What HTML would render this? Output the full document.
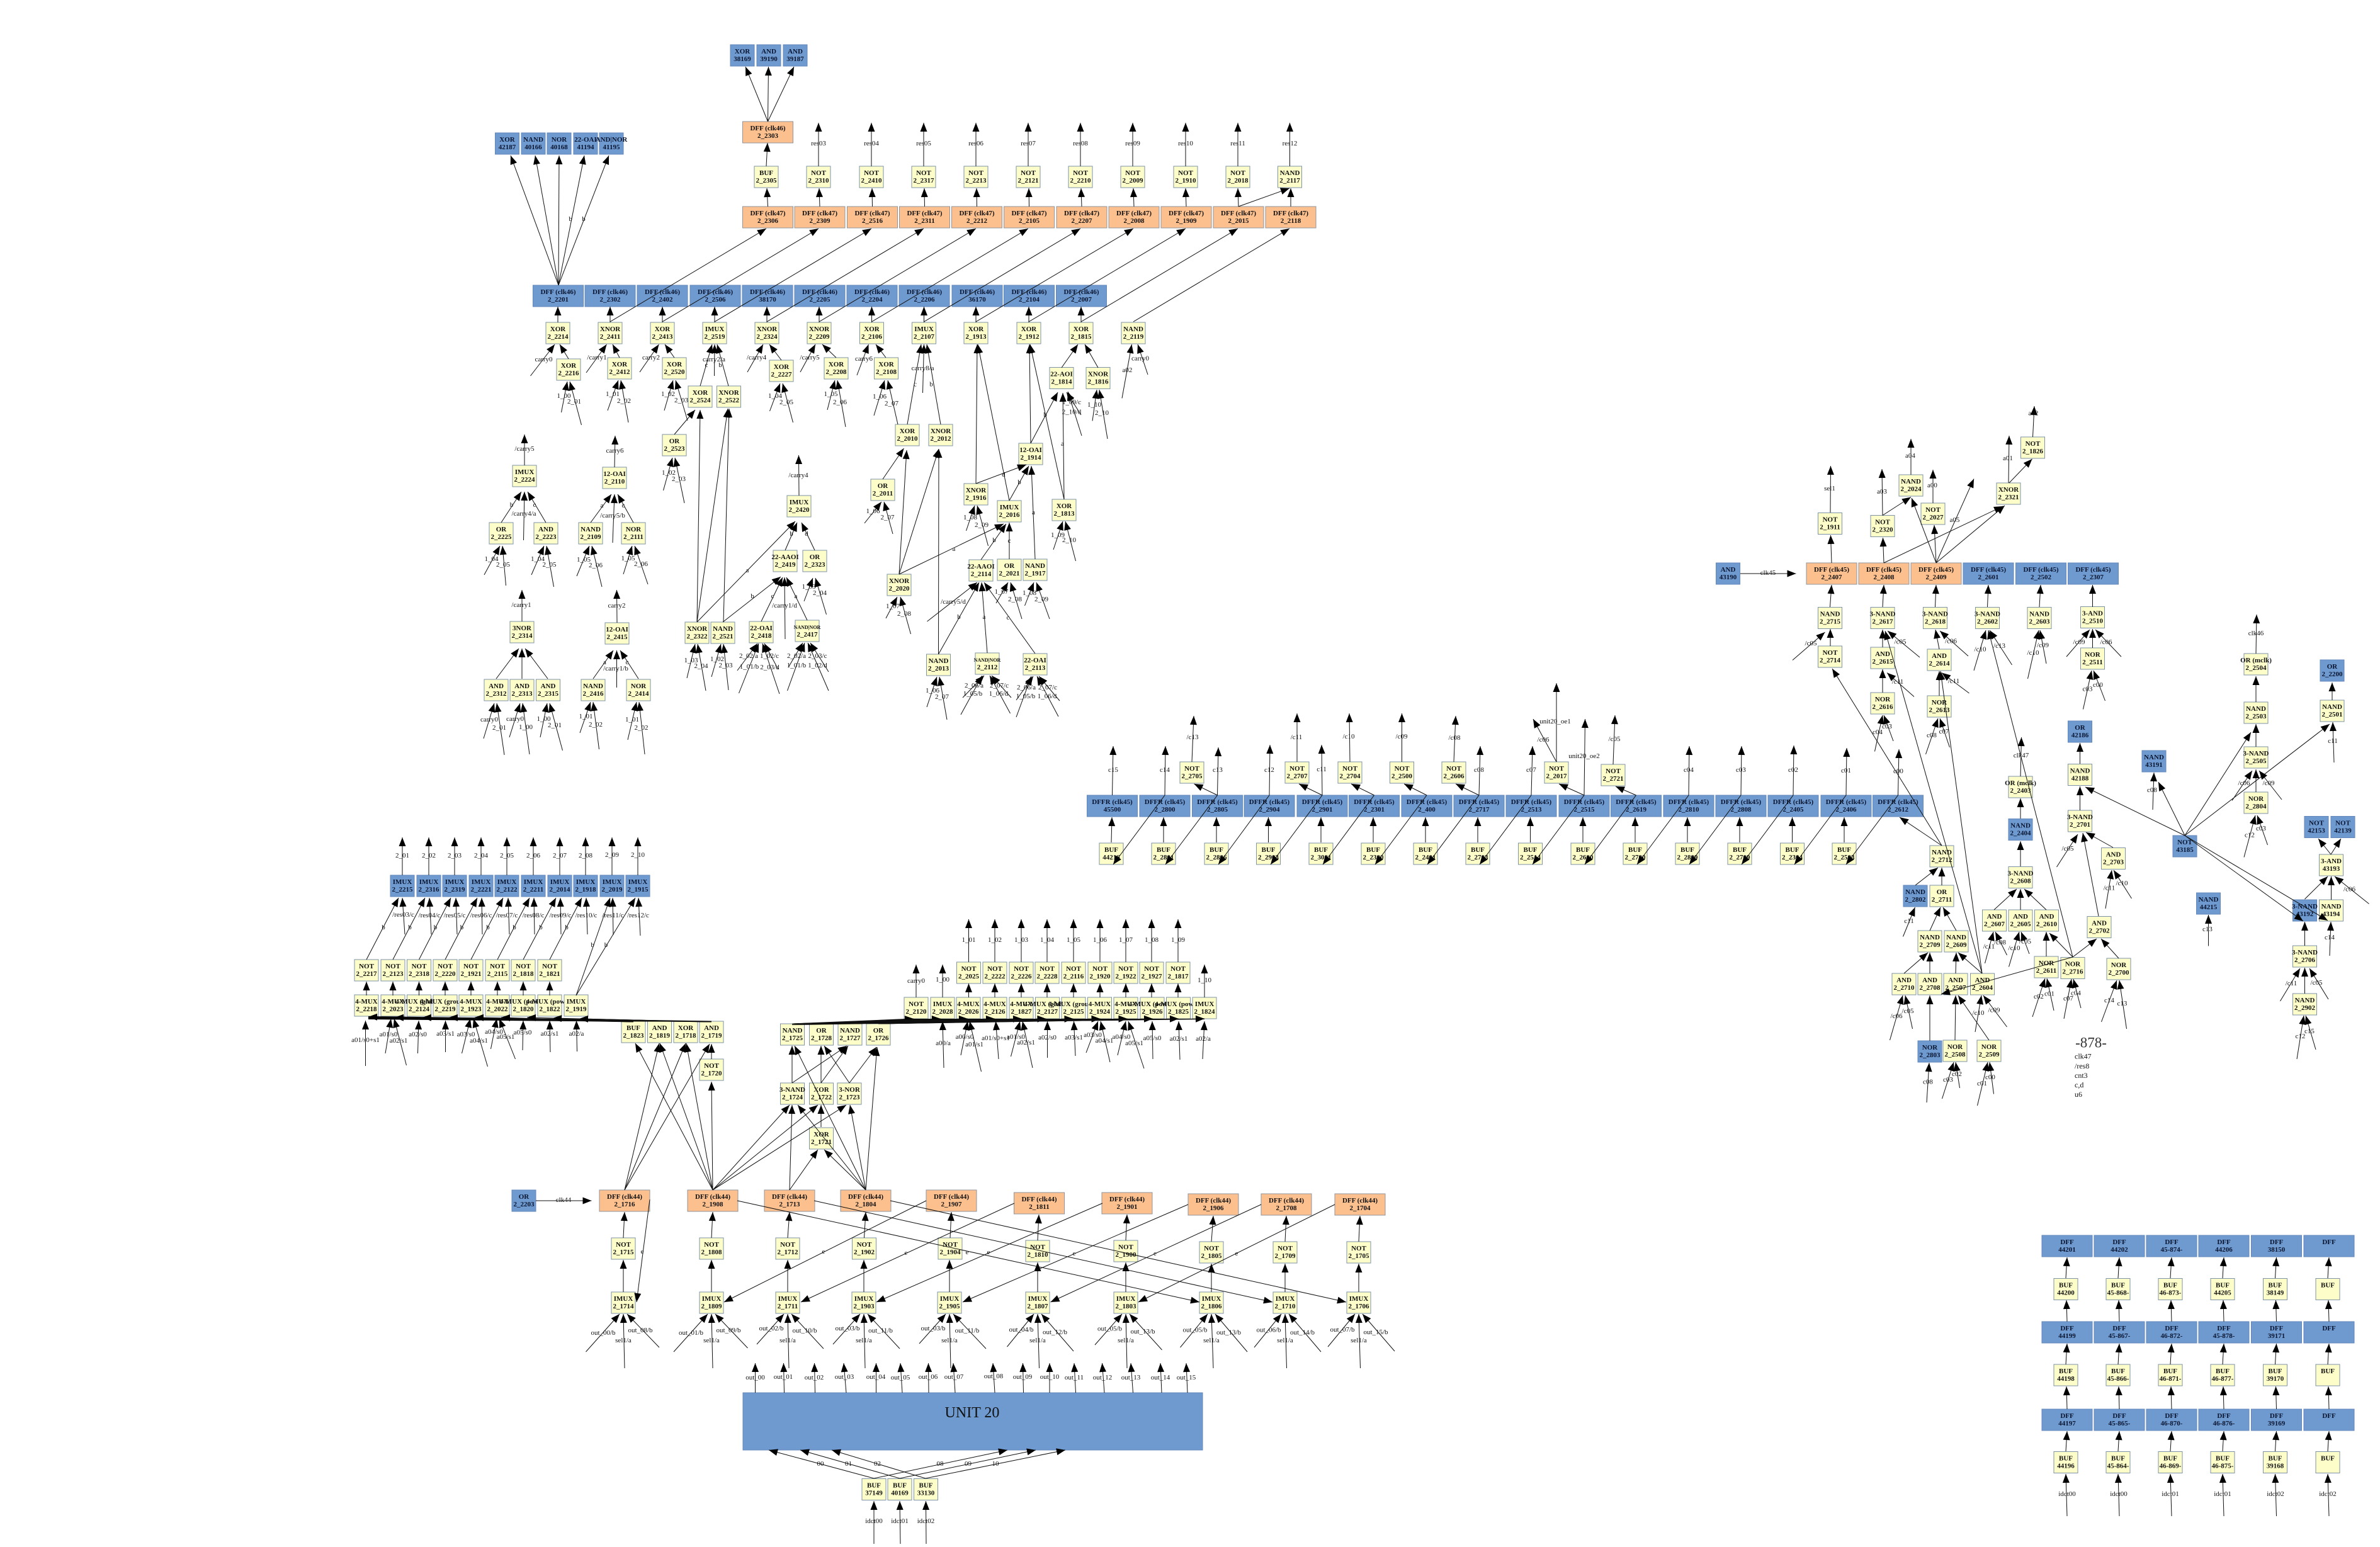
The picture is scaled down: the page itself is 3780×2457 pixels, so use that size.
<!DOCTYPE html>
<html><head><meta charset="utf-8"><style>
html,body{margin:0;padding:0;background:#fff}
svg{display:block}
text{font-family:"Liberation Serif",serif;font-size:11px;text-anchor:middle;fill:#111}
#n text{font-weight:bold}
#n rect{x:-19px;y:-17px;width:38px;height:34px;stroke-width:1}
#n .w rect{x:-40px;width:80px}
.y rect{fill:#fdfdc9;stroke:#7f93a8}
.b rect{fill:#6e9ad0;stroke:#6488bb}
.o rect{fill:#fcc08e;stroke:#8f949c}
#n .b text{fill:#0a1530}
#e path{fill:none;stroke:#111;stroke-width:1;marker-end:url(#a)}
#l text{dominant-baseline:central}
.s{font-size:8px}
</style></head><body>
<svg xmlns="http://www.w3.org/2000/svg" width="3780" height="2457" viewBox="0 0 3780 2457">
<defs><marker id="a" markerUnits="userSpaceOnUse" markerWidth="16" markerHeight="13" refX="15" refY="6.5" orient="auto"><polygon points="1,1 15,6.5 1,12" fill="#000"/></marker></defs>
<rect width="3780" height="2457" fill="#fff"/>
<g id="n">
<g class="b" transform="translate(1179,88)"><rect/><text y="-3">XOR</text><text y="9">38169</text></g>
<g class="b" transform="translate(1221,88)"><rect/><text y="-3">AND</text><text y="9">39190</text></g>
<g class="b" transform="translate(1263,88)"><rect/><text y="-3">AND</text><text y="9">39187</text></g>
<g class="b" transform="translate(805.5,228)"><rect/><text y="-3">XOR</text><text y="9">42187</text></g>
<g class="b" transform="translate(847,228)"><rect/><text y="-3">NAND</text><text y="9">40166</text></g>
<g class="b" transform="translate(888,228)"><rect/><text y="-3">NOR</text><text y="9">40168</text></g>
<g class="b" transform="translate(930,228)"><rect/><text y="-3">22-OAI</text><text y="9">41194</text></g>
<g class="b" transform="translate(971,228)"><rect/><text y="-3">AND|NOR</text><text y="9">41195</text></g>
<g class="o w" transform="translate(1219.5,210)"><rect/><text y="-3">DFF (clk46)</text><text y="9">2_2303</text></g>
<g class="y" transform="translate(1217,281)"><rect/><text y="-3">BUF</text><text y="9">2_2305</text></g>
<g class="y" transform="translate(1300,281)"><rect/><text y="-3">NOT</text><text y="9">2_2310</text></g>
<g class="y" transform="translate(1384,281)"><rect/><text y="-3">NOT</text><text y="9">2_2410</text></g>
<g class="y" transform="translate(1467,281)"><rect/><text y="-3">NOT</text><text y="9">2_2317</text></g>
<g class="y" transform="translate(1550,281)"><rect/><text y="-3">NOT</text><text y="9">2_2213</text></g>
<g class="y" transform="translate(1633,281)"><rect/><text y="-3">NOT</text><text y="9">2_2121</text></g>
<g class="y" transform="translate(1716,281)"><rect/><text y="-3">NOT</text><text y="9">2_2210</text></g>
<g class="y" transform="translate(1799,281)"><rect/><text y="-3">NOT</text><text y="9">2_2009</text></g>
<g class="y" transform="translate(1883,281)"><rect/><text y="-3">NOT</text><text y="9">2_1910</text></g>
<g class="y" transform="translate(1966,281)"><rect/><text y="-3">NOT</text><text y="9">2_2018</text></g>
<g class="y" transform="translate(2048.5,281)"><rect/><text y="-3">NAND</text><text y="9">2_2117</text></g>
<g class="o w" transform="translate(1219.5,345)"><rect/><text y="-3">DFF (clk47)</text><text y="9">2_2306</text></g>
<g class="o w" transform="translate(1302,345)"><rect/><text y="-3">DFF (clk47)</text><text y="9">2_2309</text></g>
<g class="o w" transform="translate(1385.5,345)"><rect/><text y="-3">DFF (clk47)</text><text y="9">2_2516</text></g>
<g class="o w" transform="translate(1468.5,345)"><rect/><text y="-3">DFF (clk47)</text><text y="9">2_2311</text></g>
<g class="o w" transform="translate(1551.5,345)"><rect/><text y="-3">DFF (clk47)</text><text y="9">2_2212</text></g>
<g class="o w" transform="translate(1634.5,345)"><rect/><text y="-3">DFF (clk47)</text><text y="9">2_2105</text></g>
<g class="o w" transform="translate(1718,345)"><rect/><text y="-3">DFF (clk47)</text><text y="9">2_2207</text></g>
<g class="o w" transform="translate(1801,345)"><rect/><text y="-3">DFF (clk47)</text><text y="9">2_2008</text></g>
<g class="o w" transform="translate(1884,345)"><rect/><text y="-3">DFF (clk47)</text><text y="9">2_1909</text></g>
<g class="o w" transform="translate(1967,345)"><rect/><text y="-3">DFF (clk47)</text><text y="9">2_2015</text></g>
<g class="o w" transform="translate(2050,345)"><rect/><text y="-3">DFF (clk47)</text><text y="9">2_2118</text></g>
<g class="b w" transform="translate(886.5,470)"><rect/><text y="-3">DFF (clk46)</text><text y="9">2_2201</text></g>
<g class="b w" transform="translate(969,470)"><rect/><text y="-3">DFF (clk46)</text><text y="9">2_2302</text></g>
<g class="b w" transform="translate(1052,470)"><rect/><text y="-3">DFF (clk46)</text><text y="9">2_2402</text></g>
<g class="b w" transform="translate(1136,470)"><rect/><text y="-3">DFF (clk46)</text><text y="9">2_2506</text></g>
<g class="b w" transform="translate(1219,470)"><rect/><text y="-3">DFF (clk46)</text><text y="9">38170</text></g>
<g class="b w" transform="translate(1302,470)"><rect/><text y="-3">DFF (clk46)</text><text y="9">2_2205</text></g>
<g class="b w" transform="translate(1385,470)"><rect/><text y="-3">DFF (clk46)</text><text y="9">2_2204</text></g>
<g class="b w" transform="translate(1468,470)"><rect/><text y="-3">DFF (clk46)</text><text y="9">2_2206</text></g>
<g class="b w" transform="translate(1552,470)"><rect/><text y="-3">DFF (clk46)</text><text y="9">36170</text></g>
<g class="b w" transform="translate(1634.5,470)"><rect/><text y="-3">DFF (clk46)</text><text y="9">2_2104</text></g>
<g class="b w" transform="translate(1717.5,470)"><rect/><text y="-3">DFF (clk46)</text><text y="9">2_2007</text></g>
<g class="y" transform="translate(886,529)"><rect/><text y="-3">XOR</text><text y="9">2_2214</text></g>
<g class="y" transform="translate(969,529)"><rect/><text y="-3">XNOR</text><text y="9">2_2411</text></g>
<g class="y" transform="translate(1052,529)"><rect/><text y="-3">XOR</text><text y="9">2_2413</text></g>
<g class="y" transform="translate(1135,529)"><rect/><text y="-3">IMUX</text><text y="9">2_2519</text></g>
<g class="y" transform="translate(1218,529)"><rect/><text y="-3">XNOR</text><text y="9">2_2324</text></g>
<g class="y" transform="translate(1301,529)"><rect/><text y="-3">XNOR</text><text y="9">2_2209</text></g>
<g class="y" transform="translate(1384.5,529)"><rect/><text y="-3">XOR</text><text y="9">2_2106</text></g>
<g class="y" transform="translate(1467.5,529)"><rect/><text y="-3">IMUX</text><text y="9">2_2107</text></g>
<g class="y" transform="translate(1550,529)"><rect/><text y="-3">XOR</text><text y="9">2_1913</text></g>
<g class="y" transform="translate(1634,529)"><rect/><text y="-3">XOR</text><text y="9">2_1912</text></g>
<g class="y" transform="translate(1717,529)"><rect/><text y="-3">XOR</text><text y="9">2_1815</text></g>
<g class="y" transform="translate(1800,529)"><rect/><text y="-3">NAND</text><text y="9">2_2119</text></g>
<g class="y" transform="translate(903,587)"><rect/><text y="-3">XOR</text><text y="9">2_2216</text></g>
<g class="y" transform="translate(984,585)"><rect/><text y="-3">XOR</text><text y="9">2_2412</text></g>
<g class="y" transform="translate(1071,585)"><rect/><text y="-3">XOR</text><text y="9">2_2520</text></g>
<g class="y" transform="translate(1112,630)"><rect/><text y="-3">XOR</text><text y="9">2_2524</text></g>
<g class="y" transform="translate(1157.5,630)"><rect/><text y="-3">XNOR</text><text y="9">2_2522</text></g>
<g class="y" transform="translate(1241,589)"><rect/><text y="-3">XOR</text><text y="9">2_2227</text></g>
<g class="y" transform="translate(1328,585)"><rect/><text y="-3">XOR</text><text y="9">2_2208</text></g>
<g class="y" transform="translate(1407.5,585)"><rect/><text y="-3">XOR</text><text y="9">2_2108</text></g>
<g class="y" transform="translate(1686,600.5)"><rect/><text y="-3">22-AOI</text><text y="9">2_1814</text></g>
<g class="y" transform="translate(1744,600.5)"><rect/><text y="-3">XNOR</text><text y="9">2_1816</text></g>
<g class="y" transform="translate(1071,707)"><rect/><text y="-3">OR</text><text y="9">2_2523</text></g>
<g class="y" transform="translate(833,756)"><rect/><text y="-3">IMUX</text><text y="9">2_2224</text></g>
<g class="y" transform="translate(796,847)"><rect/><text y="-3">OR</text><text y="9">2_2225</text></g>
<g class="y" transform="translate(867,847)"><rect/><text y="-3">AND</text><text y="9">2_2223</text></g>
<g class="y" transform="translate(976,759)"><rect/><text y="-3">12-OAI</text><text y="9">2_2110</text></g>
<g class="y" transform="translate(938,847)"><rect/><text y="-3">NAND</text><text y="9">2_2109</text></g>
<g class="y" transform="translate(1006,847)"><rect/><text y="-3">NOR</text><text y="9">2_2111</text></g>
<g class="y" transform="translate(829,1004)"><rect/><text y="-3">3NOR</text><text y="9">2_2314</text></g>
<g class="y" transform="translate(788,1096)"><rect/><text y="-3">AND</text><text y="9">2_2312</text></g>
<g class="y" transform="translate(829,1096)"><rect/><text y="-3">AND</text><text y="9">2_2313</text></g>
<g class="y" transform="translate(870.5,1096)"><rect/><text y="-3">AND</text><text y="9">2_2315</text></g>
<g class="y" transform="translate(980,1006)"><rect/><text y="-3">12-OAI</text><text y="9">2_2415</text></g>
<g class="y" transform="translate(942,1096)"><rect/><text y="-3">NAND</text><text y="9">2_2416</text></g>
<g class="y" transform="translate(1014,1096)"><rect/><text y="-3">NOR</text><text y="9">2_2414</text></g>
<g class="y" transform="translate(1269,804)"><rect/><text y="-3">IMUX</text><text y="9">2_2420</text></g>
<g class="y" transform="translate(1247,891)"><rect/><text y="-3">22-AAOI</text><text y="9">2_2419</text></g>
<g class="y" transform="translate(1294,891)"><rect/><text y="-3">OR</text><text y="9">2_2323</text></g>
<g class="y" transform="translate(1107,1005)"><rect/><text y="-3">XNOR</text><text y="9">2_2322</text></g>
<g class="y" transform="translate(1148,1005)"><rect/><text y="-3">NAND</text><text y="9">2_2521</text></g>
<g class="y" transform="translate(1209,1004)"><rect/><text y="-3">22-OAI</text><text y="9">2_2418</text></g>
<g class="y" transform="translate(1282,1002)"><rect/><text y="-3" class="s">NAND|NOR</text><text y="9">2_2417</text></g>
<g class="y" transform="translate(1441,691)"><rect/><text y="-3">XOR</text><text y="9">2_2010</text></g>
<g class="y" transform="translate(1494,691)"><rect/><text y="-3">XNOR</text><text y="9">2_2012</text></g>
<g class="y" transform="translate(1402,778)"><rect/><text y="-3">OR</text><text y="9">2_2011</text></g>
<g class="y" transform="translate(1637,721)"><rect/><text y="-3">12-OAI</text><text y="9">2_1914</text></g>
<g class="y" transform="translate(1550,785)"><rect/><text y="-3">XNOR</text><text y="9">2_1916</text></g>
<g class="y" transform="translate(1603,812)"><rect/><text y="-3">IMUX</text><text y="9">2_2016</text></g>
<g class="y" transform="translate(1690,810)"><rect/><text y="-3">XOR</text><text y="9">2_1813</text></g>
<g class="y" transform="translate(1558,906)"><rect/><text y="-3">22-AAOI</text><text y="9">2_2114</text></g>
<g class="y" transform="translate(1603,905)"><rect/><text y="-3">OR</text><text y="9">2_2021</text></g>
<g class="y" transform="translate(1644,905)"><rect/><text y="-3">NAND</text><text y="9">2_1917</text></g>
<g class="y" transform="translate(1428,929)"><rect/><text y="-3">XNOR</text><text y="9">2_2020</text></g>
<g class="y" transform="translate(1490.5,1056)"><rect/><text y="-3">NAND</text><text y="9">2_2013</text></g>
<g class="y" transform="translate(1568,1054)"><rect/><text y="-3" class="s">NAND|NOR</text><text y="9">2_2112</text></g>
<g class="y" transform="translate(1644,1055)"><rect/><text y="-3">22-OAI</text><text y="9">2_2113</text></g>
<g class="b" transform="translate(639,1407)"><rect/><text y="-3">IMUX</text><text y="9">2_2215</text></g>
<g class="b" transform="translate(681,1407)"><rect/><text y="-3">IMUX</text><text y="9">2_2316</text></g>
<g class="b" transform="translate(722,1407)"><rect/><text y="-3">IMUX</text><text y="9">2_2319</text></g>
<g class="b" transform="translate(764,1407)"><rect/><text y="-3">IMUX</text><text y="9">2_2221</text></g>
<g class="b" transform="translate(805,1407)"><rect/><text y="-3">IMUX</text><text y="9">2_2122</text></g>
<g class="b" transform="translate(847,1407)"><rect/><text y="-3">IMUX</text><text y="9">2_2211</text></g>
<g class="b" transform="translate(889,1407)"><rect/><text y="-3">IMUX</text><text y="9">2_2014</text></g>
<g class="b" transform="translate(930,1407)"><rect/><text y="-3">IMUX</text><text y="9">2_1918</text></g>
<g class="b" transform="translate(972,1407)"><rect/><text y="-3">IMUX</text><text y="9">2_2019</text></g>
<g class="b" transform="translate(1013,1407)"><rect/><text y="-3">IMUX</text><text y="9">2_1915</text></g>
<g class="y" transform="translate(582,1541)"><rect/><text y="-3">NOT</text><text y="9">2_2217</text></g>
<g class="y" transform="translate(624,1541)"><rect/><text y="-3">NOT</text><text y="9">2_2123</text></g>
<g class="y" transform="translate(665.5,1541)"><rect/><text y="-3">NOT</text><text y="9">2_2318</text></g>
<g class="y" transform="translate(707,1541)"><rect/><text y="-3">NOT</text><text y="9">2_2220</text></g>
<g class="y" transform="translate(748,1541)"><rect/><text y="-3">NOT</text><text y="9">2_1921</text></g>
<g class="y" transform="translate(790,1541)"><rect/><text y="-3">NOT</text><text y="9">2_2115</text></g>
<g class="y" transform="translate(831,1541)"><rect/><text y="-3">NOT</text><text y="9">2_1818</text></g>
<g class="y" transform="translate(873,1541)"><rect/><text y="-3">NOT</text><text y="9">2_1821</text></g>
<g class="y" transform="translate(582,1597)"><rect/><text y="-3">4-MUX</text><text y="9">2_2218</text></g>
<g class="y" transform="translate(624,1597)"><rect/><text y="-3">4-MUX</text><text y="9">2_2023</text></g>
<g class="y" transform="translate(665.5,1597)"><rect/><text y="-3">4-MUX (global)</text><text y="9">2_2124</text></g>
<g class="y" transform="translate(707,1597)"><rect/><text y="-3">4-MUX (ground)</text><text y="9">2_2219</text></g>
<g class="y" transform="translate(748,1597)"><rect/><text y="-3">4-MUX</text><text y="9">2_1923</text></g>
<g class="y" transform="translate(790,1597)"><rect/><text y="-3">4-MUX</text><text y="9">2_2022</text></g>
<g class="y" transform="translate(831,1597)"><rect/><text y="-3">4-MUX (power)</text><text y="9">2_1820</text></g>
<g class="y" transform="translate(873,1597)"><rect/><text y="-3">4-MUX (power)</text><text y="9">2_1822</text></g>
<g class="y" transform="translate(915,1597)"><rect/><text y="-3">IMUX</text><text y="9">2_1919</text></g>
<g class="y" transform="translate(1006,1639)"><rect/><text y="-3">BUF</text><text y="9">2_1823</text></g>
<g class="y" transform="translate(1047.5,1639)"><rect/><text y="-3">AND</text><text y="9">2_1819</text></g>
<g class="y" transform="translate(1089,1639)"><rect/><text y="-3">XOR</text><text y="9">2_1718</text></g>
<g class="y" transform="translate(1130,1639)"><rect/><text y="-3">AND</text><text y="9">2_1719</text></g>
<g class="y" transform="translate(1130,1699)"><rect/><text y="-3">NOT</text><text y="9">2_1720</text></g>
<g class="y" transform="translate(1258.5,1643)"><rect/><text y="-3">NAND</text><text y="9">2_1725</text></g>
<g class="y" transform="translate(1304.5,1643)"><rect/><text y="-3">OR</text><text y="9">2_1728</text></g>
<g class="y" transform="translate(1350,1643)"><rect/><text y="-3">NAND</text><text y="9">2_1727</text></g>
<g class="y" transform="translate(1395,1643)"><rect/><text y="-3">OR</text><text y="9">2_1726</text></g>
<g class="y" transform="translate(1258.5,1737)"><rect/><text y="-3">3-NAND</text><text y="9">2_1724</text></g>
<g class="y" transform="translate(1304.5,1737)"><rect/><text y="-3">XOR</text><text y="9">2_1722</text></g>
<g class="y" transform="translate(1349,1737)"><rect/><text y="-3">3-NOR</text><text y="9">2_1723</text></g>
<g class="y" transform="translate(1304.5,1808)"><rect/><text y="-3">XOR</text><text y="9">2_1721</text></g>
<g class="y" transform="translate(1455,1601)"><rect/><text y="-3">NOT</text><text y="9">2_2120</text></g>
<g class="y" transform="translate(1497,1601)"><rect/><text y="-3">IMUX</text><text y="9">2_2028</text></g>
<g class="y" transform="translate(1538,1601)"><rect/><text y="-3">4-MUX</text><text y="9">2_2026</text></g>
<g class="y" transform="translate(1580,1601)"><rect/><text y="-3">4-MUX</text><text y="9">2_2126</text></g>
<g class="y" transform="translate(1622,1601)"><rect/><text y="-3">4-MUX</text><text y="9">2_1827</text></g>
<g class="y" transform="translate(1663.5,1601)"><rect/><text y="-3">4-MUX (global)</text><text y="9">2_2127</text></g>
<g class="y" transform="translate(1705,1601)"><rect/><text y="-3">4-MUX (ground)</text><text y="9">2_2125</text></g>
<g class="y" transform="translate(1746.5,1601)"><rect/><text y="-3">4-MUX</text><text y="9">2_1924</text></g>
<g class="y" transform="translate(1788,1601)"><rect/><text y="-3">4-MUX</text><text y="9">2_1925</text></g>
<g class="y" transform="translate(1830,1601)"><rect/><text y="-3">4-MUX (power)</text><text y="9">2_1926</text></g>
<g class="y" transform="translate(1871.5,1601)"><rect/><text y="-3">4-MUX (power)</text><text y="9">2_1825</text></g>
<g class="y" transform="translate(1913,1601)"><rect/><text y="-3">IMUX</text><text y="9">2_1824</text></g>
<g class="y" transform="translate(1538.5,1545)"><rect/><text y="-3">NOT</text><text y="9">2_2025</text></g>
<g class="y" transform="translate(1580,1545)"><rect/><text y="-3">NOT</text><text y="9">2_2222</text></g>
<g class="y" transform="translate(1622,1545)"><rect/><text y="-3">NOT</text><text y="9">2_2226</text></g>
<g class="y" transform="translate(1663,1545)"><rect/><text y="-3">NOT</text><text y="9">2_2228</text></g>
<g class="y" transform="translate(1705,1545)"><rect/><text y="-3">NOT</text><text y="9">2_2116</text></g>
<g class="y" transform="translate(1747,1545)"><rect/><text y="-3">NOT</text><text y="9">2_1920</text></g>
<g class="y" transform="translate(1788,1545)"><rect/><text y="-3">NOT</text><text y="9">2_1922</text></g>
<g class="y" transform="translate(1829,1545)"><rect/><text y="-3">NOT</text><text y="9">2_1927</text></g>
<g class="y" transform="translate(1871,1545)"><rect/><text y="-3">NOT</text><text y="9">2_1817</text></g>
<g class="b" transform="translate(832,1907)"><rect/><text y="-3">OR</text><text y="9">2_2203</text></g>
<g class="o w" transform="translate(992,1907)"><rect/><text y="-3">DFF (clk44)</text><text y="9">2_1716</text></g>
<g class="o w" transform="translate(1132,1907)"><rect/><text y="-3">DFF (clk44)</text><text y="9">2_1908</text></g>
<g class="o w" transform="translate(1254,1907)"><rect/><text y="-3">DFF (clk44)</text><text y="9">2_1713</text></g>
<g class="o w" transform="translate(1375,1907)"><rect/><text y="-3">DFF (clk44)</text><text y="9">2_1804</text></g>
<g class="o w" transform="translate(1511,1907)"><rect/><text y="-3">DFF (clk44)</text><text y="9">2_1907</text></g>
<g class="o w" transform="translate(1650.5,1911)"><rect/><text y="-3">DFF (clk44)</text><text y="9">2_1811</text></g>
<g class="o w" transform="translate(1790,1911)"><rect/><text y="-3">DFF (clk44)</text><text y="9">2_1901</text></g>
<g class="o w" transform="translate(1927,1913)"><rect/><text y="-3">DFF (clk44)</text><text y="9">2_1906</text></g>
<g class="o w" transform="translate(2043,1913)"><rect/><text y="-3">DFF (clk44)</text><text y="9">2_1708</text></g>
<g class="o w" transform="translate(2160,1913)"><rect/><text y="-3">DFF (clk44)</text><text y="9">2_1704</text></g>
<g class="y" transform="translate(990,1983)"><rect/><text y="-3">NOT</text><text y="9">2_1715</text></g>
<g class="y" transform="translate(1130,1983)"><rect/><text y="-3">NOT</text><text y="9">2_1808</text></g>
<g class="y" transform="translate(1251,1983)"><rect/><text y="-3">NOT</text><text y="9">2_1712</text></g>
<g class="y" transform="translate(1372.5,1983)"><rect/><text y="-3">NOT</text><text y="9">2_1902</text></g>
<g class="y" transform="translate(1509,1983)"><rect/><text y="-3">NOT</text><text y="9">2_1904</text></g>
<g class="y" transform="translate(1648,1987)"><rect/><text y="-3">NOT</text><text y="9">2_1810</text></g>
<g class="y" transform="translate(1788,1987)"><rect/><text y="-3">NOT</text><text y="9">2_1900</text></g>
<g class="y" transform="translate(1924,1989)"><rect/><text y="-3">NOT</text><text y="9">2_1805</text></g>
<g class="y" transform="translate(2041,1989)"><rect/><text y="-3">NOT</text><text y="9">2_1709</text></g>
<g class="y" transform="translate(2158,1989)"><rect/><text y="-3">NOT</text><text y="9">2_1705</text></g>
<g class="y" transform="translate(990,2069)"><rect/><text y="-3">IMUX</text><text y="9">2_1714</text></g>
<g class="y" transform="translate(1130,2069)"><rect/><text y="-3">IMUX</text><text y="9">2_1809</text></g>
<g class="y" transform="translate(1251,2069)"><rect/><text y="-3">IMUX</text><text y="9">2_1711</text></g>
<g class="y" transform="translate(1372,2069)"><rect/><text y="-3">IMUX</text><text y="9">2_1903</text></g>
<g class="y" transform="translate(1508,2069)"><rect/><text y="-3">IMUX</text><text y="9">2_1905</text></g>
<g class="y" transform="translate(1648,2069)"><rect/><text y="-3">IMUX</text><text y="9">2_1807</text></g>
<g class="y" transform="translate(1788,2069)"><rect/><text y="-3">IMUX</text><text y="9">2_1803</text></g>
<g class="y" transform="translate(1924,2069)"><rect/><text y="-3">IMUX</text><text y="9">2_1806</text></g>
<g class="y" transform="translate(2041,2069)"><rect/><text y="-3">IMUX</text><text y="9">2_1710</text></g>
<g class="y" transform="translate(2158,2069)"><rect/><text y="-3">IMUX</text><text y="9">2_1706</text></g>
<rect x="1180" y="2212" width="730" height="91" fill="#6e9ad0" stroke="#6488bb" style="x:1180px;y:2212px;width:730px;height:91px"/>
<g class="y" transform="translate(1388,2365.5)"><rect/><text y="-3">BUF</text><text y="9">37149</text></g>
<g class="y" transform="translate(1429,2365.5)"><rect/><text y="-3">BUF</text><text y="9">40169</text></g>
<g class="y" transform="translate(1470.5,2365.5)"><rect/><text y="-3">BUF</text><text y="9">33130</text></g>
<g class="b w" transform="translate(1766.5,1280)"><rect/><text y="-3">DFFR (clk45)</text><text y="9">45500</text></g>
<g class="b w" transform="translate(1850,1280)"><rect/><text y="-3">DFFR (clk45)</text><text y="9">2_2800</text></g>
<g class="b w" transform="translate(1933.5,1280)"><rect/><text y="-3">DFFR (clk45)</text><text y="9">2_2805</text></g>
<g class="b w" transform="translate(2016,1280)"><rect/><text y="-3">DFFR (clk45)</text><text y="9">2_2904</text></g>
<g class="b w" transform="translate(2100,1280)"><rect/><text y="-3">DFFR (clk45)</text><text y="9">2_2901</text></g>
<g class="b w" transform="translate(2182.5,1280)"><rect/><text y="-3">DFFR (clk45)</text><text y="9">2_2301</text></g>
<g class="b w" transform="translate(2266,1280)"><rect/><text y="-3">DFFR (clk45)</text><text y="9">2_400</text></g>
<g class="b w" transform="translate(2349,1280)"><rect/><text y="-3">DFFR (clk45)</text><text y="9">2_2717</text></g>
<g class="b w" transform="translate(2432,1280)"><rect/><text y="-3">DFFR (clk45)</text><text y="9">2_2513</text></g>
<g class="b w" transform="translate(2516,1280)"><rect/><text y="-3">DFFR (clk45)</text><text y="9">2_2515</text></g>
<g class="b w" transform="translate(2598.5,1280)"><rect/><text y="-3">DFFR (clk45)</text><text y="9">2_2619</text></g>
<g class="b w" transform="translate(2682,1280)"><rect/><text y="-3">DFFR (clk45)</text><text y="9">2_2810</text></g>
<g class="b w" transform="translate(2765,1280)"><rect/><text y="-3">DFFR (clk45)</text><text y="9">2_2808</text></g>
<g class="b w" transform="translate(2848,1280)"><rect/><text y="-3">DFFR (clk45)</text><text y="9">2_2405</text></g>
<g class="b w" transform="translate(2932,1280)"><rect/><text y="-3">DFFR (clk45)</text><text y="9">2_2406</text></g>
<g class="b w" transform="translate(3014.5,1280)"><rect/><text y="-3">DFFR (clk45)</text><text y="9">2_2612</text></g>
<g class="y" transform="translate(1765,1356)"><rect/><text y="-3">BUF</text><text y="9">44216</text></g>
<g class="y" transform="translate(1848,1356)"><rect/><text y="-3">BUF</text><text y="9">2_2801</text></g>
<g class="y" transform="translate(1932,1356)"><rect/><text y="-3">BUF</text><text y="9">2_2806</text></g>
<g class="y" transform="translate(2014.5,1356)"><rect/><text y="-3">BUF</text><text y="9">2_2903</text></g>
<g class="y" transform="translate(2098,1356)"><rect/><text y="-3">BUF</text><text y="9">2_3001</text></g>
<g class="y" transform="translate(2181,1356)"><rect/><text y="-3">BUF</text><text y="9">2_2300</text></g>
<g class="y" transform="translate(2264,1356)"><rect/><text y="-3">BUF</text><text y="9">2_2401</text></g>
<g class="y" transform="translate(2347,1356)"><rect/><text y="-3">BUF</text><text y="9">2_2703</text></g>
<g class="y" transform="translate(2430.5,1356)"><rect/><text y="-3">BUF</text><text y="9">2_2514</text></g>
<g class="y" transform="translate(2514,1356)"><rect/><text y="-3">BUF</text><text y="9">2_2600</text></g>
<g class="y" transform="translate(2597,1356)"><rect/><text y="-3">BUF</text><text y="9">2_2700</text></g>
<g class="y" transform="translate(2680,1356)"><rect/><text y="-3">BUF</text><text y="9">2_2809</text></g>
<g class="y" transform="translate(2763,1356)"><rect/><text y="-3">BUF</text><text y="9">2_2709</text></g>
<g class="y" transform="translate(2846.5,1356)"><rect/><text y="-3">BUF</text><text y="9">2_2304</text></g>
<g class="y" transform="translate(2929,1356)"><rect/><text y="-3">BUF</text><text y="9">2_2503</text></g>
<g class="y" transform="translate(1893,1227)"><rect/><text y="-3">NOT</text><text y="9">2_2705</text></g>
<g class="y" transform="translate(2060,1227)"><rect/><text y="-3">NOT</text><text y="9">2_2707</text></g>
<g class="y" transform="translate(2144,1227)"><rect/><text y="-3">NOT</text><text y="9">2_2704</text></g>
<g class="y" transform="translate(2226.5,1227)"><rect/><text y="-3">NOT</text><text y="9">2_2500</text></g>
<g class="y" transform="translate(2309,1227)"><rect/><text y="-3">NOT</text><text y="9">2_2606</text></g>
<g class="y" transform="translate(2472,1227)"><rect/><text y="-3">NOT</text><text y="9">2_2017</text></g>
<g class="y" transform="translate(2562,1231)"><rect/><text y="-3">NOT</text><text y="9">2_2721</text></g>
<g class="b" transform="translate(2744.5,911)"><rect/><text y="-3">AND</text><text y="9">43190</text></g>
<g class="o w" transform="translate(2909,911)"><rect/><text y="-3">DFF (clk45)</text><text y="9">2_2407</text></g>
<g class="o w" transform="translate(2992,911)"><rect/><text y="-3">DFF (clk45)</text><text y="9">2_2408</text></g>
<g class="o w" transform="translate(3075,911)"><rect/><text y="-3">DFF (clk45)</text><text y="9">2_2409</text></g>
<g class="b w" transform="translate(3158,911)"><rect/><text y="-3">DFF (clk45)</text><text y="9">2_2601</text></g>
<g class="b w" transform="translate(3241.5,911)"><rect/><text y="-3">DFF (clk45)</text><text y="9">2_2502</text></g>
<g class="b w" transform="translate(3324.5,911)"><rect/><text y="-3">DFF (clk45)</text><text y="9">2_2307</text></g>
<g class="y" transform="translate(2906.5,831.5)"><rect/><text y="-3">NOT</text><text y="9">2_1911</text></g>
<g class="y" transform="translate(2990,835.5)"><rect/><text y="-3">NOT</text><text y="9">2_2320</text></g>
<g class="y" transform="translate(3035,771)"><rect/><text y="-3">NAND</text><text y="9">2_2024</text></g>
<g class="y" transform="translate(3070,816)"><rect/><text y="-3">NOT</text><text y="9">2_2027</text></g>
<g class="y" transform="translate(3190,784)"><rect/><text y="-3">XNOR</text><text y="9">2_2321</text></g>
<g class="y" transform="translate(3228.5,711)"><rect/><text y="-3">NOT</text><text y="9">2_1826</text></g>
<g class="y" transform="translate(2906.5,981.5)"><rect/><text y="-3">NAND</text><text y="9">2_2715</text></g>
<g class="y" transform="translate(2906.5,1043)"><rect/><text y="-3">NOT</text><text y="9">2_2714</text></g>
<g class="y" transform="translate(2990,981.5)"><rect/><text y="-3">3-NAND</text><text y="9">2_2617</text></g>
<g class="y" transform="translate(2990,1045)"><rect/><text y="-3">AND</text><text y="9">2_2615</text></g>
<g class="y" transform="translate(2990,1117)"><rect/><text y="-3">NOR</text><text y="9">2_2616</text></g>
<g class="y" transform="translate(3073.5,981.5)"><rect/><text y="-3">3-NAND</text><text y="9">2_2618</text></g>
<g class="y" transform="translate(3080,1048)"><rect/><text y="-3">AND</text><text y="9">2_2614</text></g>
<g class="y" transform="translate(3080,1122)"><rect/><text y="-3">NOR</text><text y="9">2_2613</text></g>
<g class="y" transform="translate(3156.5,981.5)"><rect/><text y="-3">3-NAND</text><text y="9">2_2602</text></g>
<g class="y" transform="translate(3239,981.5)"><rect/><text y="-3">NAND</text><text y="9">2_2603</text></g>
<g class="y" transform="translate(3323.5,980.5)"><rect/><text y="-3">3-AND</text><text y="9">2_2510</text></g>
<g class="y" transform="translate(3323.5,1046)"><rect/><text y="-3">NOR</text><text y="9">2_2511</text></g>
<g class="b" transform="translate(3303.5,1162)"><rect/><text y="-3">OR</text><text y="9">42186</text></g>
<g class="y" transform="translate(3303.5,1230.5)"><rect/><text y="-3">NAND</text><text y="9">42188</text></g>
<g class="y" transform="translate(3303.5,1304)"><rect/><text y="-3">3-NAND</text><text y="9">2_2701</text></g>
<g class="y" transform="translate(3209,1250)"><rect/><text y="-3">OR (mclk)</text><text y="9">2_2403</text></g>
<g class="b" transform="translate(3209,1317.5)"><rect/><text y="-3">NAND</text><text y="9">2_2404</text></g>
<g class="y" transform="translate(3209,1393.5)"><rect/><text y="-3">3-NAND</text><text y="9">2_2608</text></g>
<g class="y" transform="translate(3167.5,1462)"><rect/><text y="-3">AND</text><text y="9">2_2607</text></g>
<g class="y" transform="translate(3209,1462)"><rect/><text y="-3">AND</text><text y="9">2_2605</text></g>
<g class="y" transform="translate(3250.5,1462)"><rect/><text y="-3">AND</text><text y="9">2_2610</text></g>
<g class="y" transform="translate(3084,1360)"><rect/><text y="-3">NAND</text><text y="9">2_2712</text></g>
<g class="b" transform="translate(3042,1423)"><rect/><text y="-3">NAND</text><text y="9">2_2802</text></g>
<g class="y" transform="translate(3084,1423)"><rect/><text y="-3">OR</text><text y="9">2_2711</text></g>
<g class="y" transform="translate(3065,1495)"><rect/><text y="-3">NAND</text><text y="9">2_2709</text></g>
<g class="y" transform="translate(3107,1495)"><rect/><text y="-3">NAND</text><text y="9">2_2609</text></g>
<g class="y" transform="translate(3024,1563)"><rect/><text y="-3">AND</text><text y="9">2_2710</text></g>
<g class="y" transform="translate(3065,1563)"><rect/><text y="-3">AND</text><text y="9">2_2708</text></g>
<g class="y" transform="translate(3106,1563)"><rect/><text y="-3">AND</text><text y="9">2_2507</text></g>
<g class="y" transform="translate(3148.5,1563)"><rect/><text y="-3">AND</text><text y="9">2_2604</text></g>
<g class="b" transform="translate(3065,1670)"><rect/><text y="-3">NOR</text><text y="9">2_2803</text></g>
<g class="y" transform="translate(3105,1669)"><rect/><text y="-3">NOR</text><text y="9">2_2508</text></g>
<g class="y" transform="translate(3159,1669)"><rect/><text y="-3">NOR</text><text y="9">2_2509</text></g>
<g class="y" transform="translate(3250,1536)"><rect/><text y="-3">NOR</text><text y="9">2_2611</text></g>
<g class="y" transform="translate(3292,1537.5)"><rect/><text y="-3">NOR</text><text y="9">2_2716</text></g>
<g class="y" transform="translate(3334,1472.5)"><rect/><text y="-3">AND</text><text y="9">2_2702</text></g>
<g class="y" transform="translate(3365,1539)"><rect/><text y="-3">NOR</text><text y="9">2_2700</text></g>
<g class="y" transform="translate(3356.5,1363.5)"><rect/><text y="-3">AND</text><text y="9">2_2703</text></g>
<g class="b" transform="translate(3470,1344)"><rect/><text y="-3">NOT</text><text y="9">43185</text></g>
<g class="y" transform="translate(3583,1055)"><rect/><text y="-3">OR (mclk)</text><text y="9">2_2504</text></g>
<g class="y" transform="translate(3583,1132)"><rect/><text y="-3">NAND</text><text y="9">2_2503</text></g>
<g class="y" transform="translate(3583,1203)"><rect/><text y="-3">3-NAND</text><text y="9">2_2505</text></g>
<g class="y" transform="translate(3583,1275)"><rect/><text y="-3">NOR</text><text y="9">2_2804</text></g>
<g class="b" transform="translate(3704,1065)"><rect/><text y="-3">OR</text><text y="9">2_2200</text></g>
<g class="y" transform="translate(3704,1129)"><rect/><text y="-3">NAND</text><text y="9">2_2501</text></g>
<g class="b" transform="translate(3421,1209)"><rect/><text y="-3">NAND</text><text y="9">43191</text></g>
<g class="b" transform="translate(3507.5,1435)"><rect/><text y="-3">NAND</text><text y="9">44215</text></g>
<g class="b" transform="translate(3679,1313.5)"><rect/><text y="-3">NOT</text><text y="9">42153</text></g>
<g class="b" transform="translate(3721,1313.5)"><rect/><text y="-3">NOT</text><text y="9">42139</text></g>
<g class="y" transform="translate(3702.5,1374)"><rect/><text y="-3">3-AND</text><text y="9">43193</text></g>
<g class="b" transform="translate(3660.5,1446)"><rect/><text y="-3">3-NAND</text><text y="9">43192</text></g>
<g class="y" transform="translate(3702.5,1446)"><rect/><text y="-3">NAND</text><text y="9">43194</text></g>
<g class="y" transform="translate(3660.5,1519)"><rect/><text y="-3">3-NAND</text><text y="9">2_2706</text></g>
<g class="y" transform="translate(3660.5,1595)"><rect/><text y="-3">NAND</text><text y="9">2_2902</text></g>
<g class="b w" transform="translate(3283,1979)"><rect/><text y="-3">DFF</text><text y="9">44201</text></g>
<g class="b w" transform="translate(3366,1979)"><rect/><text y="-3">DFF</text><text y="9">44202</text></g>
<g class="b w" transform="translate(3449,1979)"><rect/><text y="-3">DFF</text><text y="9">45-874-</text></g>
<g class="b w" transform="translate(3532,1979)"><rect/><text y="-3">DFF</text><text y="9">44206</text></g>
<g class="b w" transform="translate(3615.5,1979)"><rect/><text y="-3">DFF</text><text y="9">38150</text></g>
<g class="b w" transform="translate(3699,1979)"><rect/><text y="-3">DFF</text></g>
<g class="y" transform="translate(3281,2047.5)"><rect/><text y="-3">BUF</text><text y="9">44200</text></g>
<g class="y" transform="translate(3364,2047.5)"><rect/><text y="-3">BUF</text><text y="9">45-868-</text></g>
<g class="y" transform="translate(3447,2047.5)"><rect/><text y="-3">BUF</text><text y="9">46-873-</text></g>
<g class="y" transform="translate(3530,2047.5)"><rect/><text y="-3">BUF</text><text y="9">44205</text></g>
<g class="y" transform="translate(3613.5,2047.5)"><rect/><text y="-3">BUF</text><text y="9">38149</text></g>
<g class="y" transform="translate(3697,2047.5)"><rect/><text y="-3">BUF</text></g>
<g class="b w" transform="translate(3283,2116)"><rect/><text y="-3">DFF</text><text y="9">44199</text></g>
<g class="b w" transform="translate(3366,2116)"><rect/><text y="-3">DFF</text><text y="9">45-867-</text></g>
<g class="b w" transform="translate(3449,2116)"><rect/><text y="-3">DFF</text><text y="9">46-872-</text></g>
<g class="b w" transform="translate(3532,2116)"><rect/><text y="-3">DFF</text><text y="9">45-878-</text></g>
<g class="b w" transform="translate(3615.5,2116)"><rect/><text y="-3">DFF</text><text y="9">39171</text></g>
<g class="b w" transform="translate(3699,2116)"><rect/><text y="-3">DFF</text></g>
<g class="y" transform="translate(3281,2184)"><rect/><text y="-3">BUF</text><text y="9">44198</text></g>
<g class="y" transform="translate(3364,2184)"><rect/><text y="-3">BUF</text><text y="9">45-866-</text></g>
<g class="y" transform="translate(3447,2184)"><rect/><text y="-3">BUF</text><text y="9">46-871-</text></g>
<g class="y" transform="translate(3530,2184)"><rect/><text y="-3">BUF</text><text y="9">46-877-</text></g>
<g class="y" transform="translate(3613.5,2184)"><rect/><text y="-3">BUF</text><text y="9">39170</text></g>
<g class="y" transform="translate(3697,2184)"><rect/><text y="-3">BUF</text></g>
<g class="b w" transform="translate(3283,2255)"><rect/><text y="-3">DFF</text><text y="9">44197</text></g>
<g class="b w" transform="translate(3366,2255)"><rect/><text y="-3">DFF</text><text y="9">45-865-</text></g>
<g class="b w" transform="translate(3449,2255)"><rect/><text y="-3">DFF</text><text y="9">46-870-</text></g>
<g class="b w" transform="translate(3532,2255)"><rect/><text y="-3">DFF</text><text y="9">46-876-</text></g>
<g class="b w" transform="translate(3615.5,2255)"><rect/><text y="-3">DFF</text><text y="9">39169</text></g>
<g class="b w" transform="translate(3699,2255)"><rect/><text y="-3">DFF</text></g>
<g class="y" transform="translate(3281,2322.5)"><rect/><text y="-3">BUF</text><text y="9">44196</text></g>
<g class="y" transform="translate(3364,2322.5)"><rect/><text y="-3">BUF</text><text y="9">45-864-</text></g>
<g class="y" transform="translate(3447,2322.5)"><rect/><text y="-3">BUF</text><text y="9">46-869-</text></g>
<g class="y" transform="translate(3530,2322.5)"><rect/><text y="-3">BUF</text><text y="9">46-875-</text></g>
<g class="y" transform="translate(3613.5,2322.5)"><rect/><text y="-3">BUF</text><text y="9">39168</text></g>
<g class="y" transform="translate(3697,2322.5)"><rect/><text y="-3">BUF</text></g>
</g>
<polygon points="585,1614 900,1618 1130,1621.5 1130,1623 900,1622 585,1619" fill="#000"/>
<polygon points="1258,1627 1451,1618 1913,1618 1913,1619 1451,1625 1258,1628" fill="#000"/>
<g id="e">
<path d="M1219.5 193L1184 106"/><path d="M1219.5 193L1220.5 106"/><path d="M1219.5 193L1261 106"/>
<path d="M1217 264L1219 227"/><path d="M1219.5 328L1218 299"/>
<path d="M887 453L811 247"/><path d="M887 453L850 247"/><path d="M887 453L888 247"/><path d="M887 453L928 247"/><path d="M887 453L967 247"/>
<path d="M1300 264V195"/><path d="M1384 264V195"/><path d="M1467 264V195"/><path d="M1550 264V195"/><path d="M1633 264V195"/><path d="M1716 264V195"/><path d="M1799 264V195"/><path d="M1883 264V195"/><path d="M1966 264V195"/><path d="M2048.5 264V195"/>
<path d="M1302 328L1301 299"/><path d="M1385.5 328L1385 299"/><path d="M1468.5 328L1468 299"/><path d="M1551.5 328L1551 299"/><path d="M1634.5 328L1634 299"/><path d="M1718 328L1717 299"/><path d="M1801 328L1800 299"/><path d="M1884 328L1883 299"/><path d="M1967 328L1966 299"/><path d="M1967 328L2048 299"/><path d="M2050 328L2050 299"/>
<path d="M969 511L1217 363"/><path d="M1052 511L1300 363"/><path d="M1135 511L1384 363"/><path d="M1218 511L1467 363"/><path d="M1301 511L1550 363"/><path d="M1384.5 511L1633 363"/><path d="M1467.5 511L1716 363"/><path d="M1550 511L1800 363"/><path d="M1634 511L1883 363"/><path d="M1717 511L1966 363"/><path d="M1800 511L2048 363"/>
<path d="M886 512V487"/><path d="M969 512V487"/><path d="M1052 512V487"/><path d="M1135 512V487"/><path d="M1218 512V487"/><path d="M1301 512V487"/><path d="M1384.5 512V487"/><path d="M1467.5 512V487"/><path d="M1550 512V487"/><path d="M1634 512V487"/><path d="M1717 512V487"/>
<path d="M842.5 597L881 547"/><path d="M903 570L889 547"/><path d="M891.5 655L901 606"/><path d="M923.5 675L905 606"/>
<path d="M931 592L963.5 547"/><path d="M984 568L973 547"/><path d="M965 652L982 604"/><path d="M998 671L986 604"/>
<path d="M1016 591L1046.5 547"/><path d="M1071 568L1056 547"/><path d="M1055 652L1069 604"/><path d="M1092 668L1073 604"/>
<path d="M1112 613L1131 547"/><path d="M1157 613L1139 547"/><path d="M1134.5 597L1135 547"/>
<path d="M1071 690L1104 651"/><path d="M1053.5 779L1068 727"/><path d="M1087 799L1072 727"/>
<path d="M1107 988L1112 651"/><path d="M1107 988L1156 649"/><path d="M1149 988L1158 649"/>
<path d="M1187 591L1212 547"/><path d="M1241 572L1222 547"/><path d="M1222.5 653L1239 609"/><path d="M1259.5 671L1243 609"/>
<path d="M1271 591L1295 547"/><path d="M1328 568L1306 547"/><path d="M1314 651L1326 604"/><path d="M1343 678L1330 604"/>
<path d="M1361 596L1379.5 547"/><path d="M1407 568L1391 547"/><path d="M1388 660L1405 604"/><path d="M1426 674L1410 604"/>
<path d="M1441 674L1463 547"/><path d="M1494 674L1472 547"/><path d="M1465.5 624L1467.5 547"/>
<path d="M1550 768L1552 547"/><path d="M1603 795L1553 547"/><path d="M1637 704L1635 547"/><path d="M1690 793L1636 547"/>
<path d="M1686 584L1712 547"/><path d="M1744 584L1723 547"/>
<path d="M1637 704L1680 623"/><path d="M1690 793L1688 624"/><path d="M1717 659L1694 623"/><path d="M1718 692L1696 622"/>
<path d="M1735 668.5L1742 619"/><path d="M1759 697L1746 619"/>
<path d="M1782 632.5L1797.5 547"/><path d="M1823 595L1807 547"/>
<path d="M833 739V690"/><path d="M796 830L828 781"/><path d="M867 830L838 781"/><path d="M831.5 858L833 781"/>
<path d="M769 913L794 867"/><path d="M803.5 930L798 867"/><path d="M844 913L864 867"/><path d="M879.5 932L868 867"/>
<path d="M976 742L977 692"/><path d="M938 830L971 785"/><path d="M1006 830L981 785"/><path d="M973 862L976 785"/>
<path d="M916 915L936 867"/><path d="M956 932L940 867"/><path d="M990 912L1004 867"/><path d="M1029 928L1008 867"/>
<path d="M829 987V937"/><path d="M788 1078L824 1030"/><path d="M829 1078V1030"/><path d="M870 1078L834 1030"/>
<path d="M768 1173L785 1117"/><path d="M801 1199L789 1117"/><path d="M809 1171L826 1117"/><path d="M841 1198L830 1117"/><path d="M858 1171L869 1117"/><path d="M893.5 1192L873 1117"/>
<path d="M980 989L979.5 937"/><path d="M942 1078L974 1033"/><path d="M1014 1078L985 1033"/><path d="M979.5 1092V1033"/>
<path d="M921 1164L938 1115"/><path d="M951.5 1190L942 1115"/><path d="M997 1175L1011 1115"/><path d="M1024 1198L1015 1115"/>
<path d="M1269 787L1268.5 723"/><path d="M1247 874L1266 830"/><path d="M1294 874L1273 830"/><path d="M1107 988L1263 828"/>
<path d="M1277 955L1291 918"/><path d="M1312.5 976L1295 918"/>
<path d="M1148 988L1240 916"/><path d="M1209 987L1243 917"/><path d="M1247 1015L1246 917"/><path d="M1282 985L1249 917"/>
<path d="M1091 1077L1104 1023"/><path d="M1121 1097L1108 1023"/><path d="M1130 1075L1145 1023"/><path d="M1157 1096L1149 1023"/>
<path d="M1171 1065L1203 1022"/><path d="M1173.5 1101L1205 1022"/><path d="M1238 1102L1211 1022"/><path d="M1236 1063L1214 1022"/>
<path d="M1252 1060L1275 1021"/><path d="M1250.5 1097L1278 1021"/><path d="M1316 1097L1283 1021"/><path d="M1316 1067L1287 1021"/>
<path d="M1402 761L1435.5 712"/><path d="M1428 912L1440 715"/><path d="M1428 912L1491 713"/><path d="M1490.5 1039L1491 713"/>
<path d="M1373 831L1400 797"/><path d="M1418 848L1404 797"/>
<path d="M1550 768L1630 738"/><path d="M1603 795L1634 740"/><path d="M1644 888L1638 740"/>
<path d="M1534.5 843L1548 803"/><path d="M1569.5 867L1552 803"/><path d="M1673 873L1688 828"/><path d="M1708.5 891L1692 828"/>
<path d="M1428 912L1594 832"/><path d="M1558 889L1598 832"/><path d="M1603 888L1603 830"/>
<path d="M1472.5 987L1552 925"/><path d="M1490.5 1039L1555 925"/><path d="M1568 1037L1559 925"/><path d="M1644 1038L1563 925"/>
<path d="M1582 958L1601 925"/><path d="M1623 983L1605 925"/><path d="M1627.5 962L1642 925"/><path d="M1667 983L1646 925"/>
<path d="M1407 982L1425 948"/><path d="M1446.5 1007L1430 948"/>
<path d="M1472 1123L1488 1075"/><path d="M1504 1143L1492 1075"/>
<path d="M1526 1135L1560 1073"/><path d="M1529 1108L1563 1073"/><path d="M1604.5 1133L1572 1073"/><path d="M1606 1108L1575 1073"/>
<path d="M1614 1139L1638 1074"/><path d="M1614 1112L1641 1074"/><path d="M1681 1138L1647 1074"/><path d="M1683 1113L1650 1074"/>
<path d="M639 1390V1330"/><path d="M681 1390V1330"/><path d="M722 1390V1330"/><path d="M764 1390V1330"/><path d="M805 1390V1330"/><path d="M847 1390V1330"/><path d="M889 1390V1330"/><path d="M930 1390V1330"/><path d="M972 1390V1330"/><path d="M1013 1390V1330"/>
<path d="M582 1524L633 1426"/><path d="M624 1524L675 1426"/><path d="M665.5 1524L716 1426"/><path d="M707 1524L758 1426"/><path d="M748 1524L799 1426"/><path d="M790 1524L841 1426"/><path d="M831 1524L883 1426"/><path d="M873 1524L924 1426"/>
<path d="M915 1581L969 1426"/><path d="M915 1581L1009 1426"/>
<path d="M643 1484L639 1426"/><path d="M685 1484L682 1426"/><path d="M726 1484L724 1426"/><path d="M766 1484L765 1426"/><path d="M809 1484L807 1426"/><path d="M849 1484L848 1426"/><path d="M891 1484L890 1426"/><path d="M933 1484L931 1426"/><path d="M974 1485L973 1426"/><path d="M1017 1486L1014 1426"/>
<path d="M582 1581V1559"/><path d="M624 1581V1559"/><path d="M665.5 1581V1559"/><path d="M707 1581V1559"/><path d="M748 1581V1559"/><path d="M790 1581V1559"/><path d="M831 1581V1559"/><path d="M873 1581V1559"/>
<path d="M1130 1623L585 1615"/><path d="M1006 1623L627 1616"/><path d="M1130 1623L671 1616"/><path d="M1006 1623L713 1616"/><path d="M1130 1623L754 1616"/><path d="M1006 1623L796 1616"/><path d="M1130 1623L837 1616"/><path d="M1006 1623L878 1617"/><path d="M1130 1623L920 1618"/>
<path d="M1258 1626L1451 1618"/><path d="M1258 1626L1494 1618"/><path d="M1258 1626L1537 1618"/><path d="M1258 1626L1580 1618"/><path d="M1304 1626L1623 1618"/><path d="M1304 1626L1661.5 1618"/><path d="M1350 1626L1704.5 1618"/><path d="M1350 1626L1747.5 1618"/><path d="M1395 1626L1790.5 1618"/><path d="M1395 1626L1831 1618"/><path d="M1395 1626L1872 1618"/><path d="M1395 1626L1913 1618"/>
<path d="M580.5 1693V1621"/><path d="M612 1673L621 1618"/><path d="M645.5 1692L626 1618"/><path d="M663.5 1673L665 1621"/><path d="M707.5 1671V1621"/><path d="M733.5 1673L747 1618"/><path d="M774.5 1694L752 1618"/><path d="M779.5 1666L789 1618"/><path d="M818.5 1682L793 1618"/><path d="M830 1668L831 1621"/><path d="M874 1671L873 1621"/><path d="M916.5 1670L915.5 1621"/>
<path d="M1130 1682V1658"/><path d="M1132 1890L1009 1657"/><path d="M992 1890L1047 1657"/><path d="M1132 1890L1048 1657"/><path d="M992 1890L1089 1657"/><path d="M1132 1890L1090 1657"/><path d="M992 1890L1127 1658"/><path d="M1132 1890L1130 1718"/>
<path d="M1258 1720V1661"/><path d="M1375 1890L1262 1661"/><path d="M1304 1720V1661"/><path d="M1349 1720L1309 1661"/><path d="M1258 1720L1345 1661"/><path d="M1304 1720L1347 1661"/><path d="M1349 1720L1392 1663"/><path d="M1375 1890L1393 1663"/>
<path d="M1132 1890L1254 1755"/><path d="M1132 1890L1299 1755"/><path d="M1132 1890L1344 1755"/><path d="M1254 1890L1258 1755"/><path d="M1375 1890L1267 1755"/><path d="M1375 1890L1350 1755"/><path d="M1304 1790V1755"/>
<path d="M1254 1890L1299 1826"/><path d="M1375 1890L1309 1826"/>
<path d="M851 1907H939.5"/><path d="M1032 1905L1011 2068"/>
<path d="M990 1966L992 1925"/><path d="M1130 1966L1132 1925"/><path d="M1251 1966L1254 1925"/><path d="M1372.5 1966L1375 1925"/><path d="M1509 1966L1511 1925"/><path d="M1648 1970L1650 1929"/><path d="M1788 1970L1790 1929"/><path d="M1924 1972L1927 1931"/><path d="M2041 1972L2043 1931"/><path d="M2158 1972L2160 1931"/>
<path d="M990 2052V2001"/><path d="M1130 2052V2001"/><path d="M1251 2052V2001"/><path d="M1372 2052V2001"/><path d="M1508 2052V2001"/><path d="M1648 2052V2005"/><path d="M1788 2052V2005"/><path d="M1924 2052V2007"/><path d="M2041 2052V2007"/><path d="M2158 2052V2007"/>
<path d="M1471 1907L1150 2068"/><path d="M1611 1911L1272 2068"/><path d="M1751 1911L1392 2068"/><path d="M1887 1913L1529 2068"/><path d="M2003 1913L1668.5 2068"/><path d="M2120 1913L1808 2068"/>
<path d="M1171 1907L1905 2068"/><path d="M1293 1907L2021 2068"/><path d="M1414 1907L2138 2068"/>
<path d="M930.5 2147L984 2087"/><path d="M992 2173L990 2087"/><path d="M1047 2140L996 2087"/>
<path d="M1070 2147L1124 2087"/><path d="M1132 2173L1130 2087"/><path d="M1187.5 2141L1136 2087"/>
<path d="M1202 2135L1245 2087"/><path d="M1253 2173L1251 2087"/><path d="M1308 2142L1257 2087"/>
<path d="M1323 2135L1366 2087"/><path d="M1374 2173L1372 2087"/><path d="M1429 2142L1378 2087"/>
<path d="M1460 2134L1502 2087"/><path d="M1510 2173L1508 2087"/><path d="M1566 2142L1514 2087"/>
<path d="M1599.5 2139L1642 2087"/><path d="M1650.5 2173L1648 2087"/><path d="M1705 2146L1654 2087"/>
<path d="M1739 2136L1782 2087"/><path d="M1790 2173L1788 2087"/><path d="M1845.5 2144L1794 2087"/>
<path d="M1874.5 2140L1918 2087"/><path d="M1927 2173L1924 2087"/><path d="M1981 2147L1930 2087"/>
<path d="M1992 2140L2035 2087"/><path d="M2043.5 2173L2041 2087"/><path d="M2098 2147L2047 2087"/>
<path d="M2109 2139L2152 2087"/><path d="M2160.5 2173L2158 2087"/><path d="M2215 2146L2164 2087"/>
<path d="M1199.5 2212V2165"/><path d="M1245.5 2212L1244.5 2165"/><path d="M1294.5 2212L1293.5 2165"/><path d="M1344 2212L1340 2165"/><path d="M1391.5 2212V2165"/><path d="M1433 2212L1430 2165"/><path d="M1475 2212L1474.5 2165"/><path d="M1517 2212L1514 2165"/><path d="M1580 2212L1577 2165"/><path d="M1625.5 2212L1624.5 2165"/><path d="M1667 2212V2165"/><path d="M1708.5 2212L1706 2165"/><path d="M1754 2212L1750.5 2165"/><path d="M1799.5 2212L1796 2165"/><path d="M1845 2212L1843 2165"/><path d="M1886 2212L1884 2165"/>
<path d="M1388 2348L1221 2303"/><path d="M1388 2348L1600 2303"/><path d="M1429 2348L1271 2303"/><path d="M1429 2348L1645 2303"/><path d="M1470 2348L1321 2303"/><path d="M1470 2348L1692 2303"/>
<path d="M1388 2452V2384"/><path d="M1430 2452L1429 2384"/><path d="M1471 2452L1470.5 2384"/>
<path d="M1765 1338L1766 1298"/><path d="M1848 1338V1298"/><path d="M1932 1338V1298"/><path d="M2014.5 1338V1298"/><path d="M2098 1338V1298"/><path d="M2181 1338V1298"/><path d="M2264 1338V1298"/><path d="M2347 1338V1298"/><path d="M2430.5 1338V1298"/><path d="M2514 1338V1298"/><path d="M2597 1338V1298"/><path d="M2680 1338V1298"/><path d="M2763 1338V1298"/><path d="M2846.5 1338V1298"/><path d="M2929 1338V1298"/>
<path d="M1766.5 1263L1768 1185"/><path d="M1850 1263L1851 1185"/><path d="M1933.5 1263L1935 1187"/><path d="M2016 1263L2017 1183"/><path d="M2100 1263L2099 1183"/><path d="M2349 1263L2351 1185"/><path d="M2432 1263L2434 1185"/><path d="M2682 1263L2683 1185"/><path d="M2765 1263L2766 1185"/><path d="M2848 1263L2849 1184"/><path d="M2932 1263L2933 1188"/><path d="M3014.5 1263L3016 1190"/>
<path d="M1893 1210L1896 1137"/><path d="M2060 1210V1133"/><path d="M2144 1210L2143 1133"/><path d="M2226.5 1210V1133"/><path d="M2309 1210L2312 1137"/><path d="M2562 1214L2565 1136"/><path d="M2472 1210V1085"/><path d="M2472 1210L2435 1142"/><path d="M2516 1263L2517.5 1142"/>
<path d="M1933.5 1263L1896.5 1245"/><path d="M2100 1263L2063 1245"/><path d="M2182.5 1263L2146 1245"/><path d="M2266 1263L2230 1245"/><path d="M2349 1263L2312 1245"/><path d="M2516 1263L2476 1245"/><path d="M2598.5 1263L2566 1249"/>
<path d="M1850 1263L1768 1373"/><path d="M1933.5 1263L1851 1373"/><path d="M2016 1263L1935 1373"/><path d="M2100 1263L2018 1373"/><path d="M2182.5 1263L2101 1373"/><path d="M2266 1263L2184 1373"/><path d="M2349 1263L2267 1373"/><path d="M2432 1263L2350 1373"/><path d="M2516 1263L2434 1373"/><path d="M2598.5 1263L2517 1373"/><path d="M2682 1263L2600 1373"/><path d="M2765 1263L2683 1373"/><path d="M2848 1263L2766 1373"/><path d="M2932 1263L2850 1373"/><path d="M3014.5 1263L2932 1373"/>
<path d="M3084 1343L3017 1298"/>
<path d="M2764 911H2852.5"/>
<path d="M2907 814L2907.5 740"/><path d="M2990 818.5L2989 745"/><path d="M2990 818.5L3035 789.5"/><path d="M3035 754V697"/><path d="M3070 799V746"/><path d="M3190 767L3191 692"/><path d="M3191 767L3227.5 729"/><path d="M3228.5 694L3231 645"/>
<path d="M3075 894L3036 791"/><path d="M3075 894L3072 834"/><path d="M3075 894L3135 760.5"/><path d="M3075 894L3184 803"/><path d="M2992 894L3181 804"/>
<path d="M2992 894L2990.5 854"/><path d="M2909 894L2907.5 850"/><path d="M2906.5 964L2909 929"/><path d="M2990 964L2992 929"/><path d="M3073.5 964L3075 929"/><path d="M3156.5 964L3158 929"/><path d="M3239 964L3241 929"/><path d="M3323.5 964V929"/>
<path d="M2907 1026V999"/><path d="M2847 1048.5L2898.5 1004"/><path d="M3084 1343L2910 1062"/>
<path d="M2990 1028V1000"/><path d="M3049 1044L2998 1002"/><path d="M3148 1546L2994 1002"/>
<path d="M2990 1100V1063"/><path d="M3040 1106.5L2997 1068.5"/>
<path d="M2977.5 1193.5L2990 1136"/><path d="M3007 1177L2992 1136"/>
<path d="M3080 1031L3074 1000"/><path d="M3126 1042L3081 1002"/><path d="M3148 1546L3082 1066"/>
<path d="M3080 1105V1066"/><path d="M3127.5 1101L3084 1068.5"/>
<path d="M3058.5 1198L3078 1141"/><path d="M3096.5 1187L3081 1141"/>
<path d="M3135 1065L3154 1001"/><path d="M3195.5 1056L3160 1001"/><path d="M3292 1520L3158 1001"/>
<path d="M3220.5 1078L3238 1001"/><path d="M3250 1054L3240 1001"/>
<path d="M3323.5 1029V999"/><path d="M3282 1043L3319 1000"/><path d="M3369 1043L3328 1000"/>
<path d="M3308.5 1126.5L3322 1065"/><path d="M3343.5 1113L3325 1065"/>
<path d="M3209 1233L3210.5 1171"/><path d="M3209 1300V1268"/><path d="M3209 1376V1336"/>
<path d="M3167 1445L3203 1412"/><path d="M3209 1445V1412"/><path d="M3250 1445L3215 1412"/>
<path d="M3152.5 1530L3166 1480"/><path d="M3187.5 1517L3169 1480"/><path d="M3190.5 1535.5L3207 1480"/><path d="M3223 1515L3210 1480"/>
<path d="M3250 1519V1480"/><path d="M3292 1520L3255 1482"/><path d="M3292 1520L3330 1491"/><path d="M3292 1520L3083 1579"/><path d="M3365 1522L3337 1491"/>
<path d="M3333 1455L3308 1323"/><path d="M3356 1346L3313 1322"/><path d="M3266.5 1377L3300 1325"/>
<path d="M3344 1443L3354 1382"/><path d="M3385.5 1427L3357 1382"/>
<path d="M3303.5 1287V1249"/><path d="M3303.5 1213V1180"/><path d="M3470 1327L3312 1250"/><path d="M3470 1327L3658 1463"/><path d="M3470 1327L3697 1462"/><path d="M3470 1327L3428 1242"/><path d="M3470 1327L3575 1163"/><path d="M3470 1327L3700 1150"/>
<path d="M3583 1038L3584 976"/><path d="M3583 1115V1074"/><path d="M3583 1186V1150"/>
<path d="M3583 1258V1222"/><path d="M3545 1271.5L3577 1224"/><path d="M3624 1270L3588 1224"/>
<path d="M3564 1361.5L3582 1295"/><path d="M3601.5 1342L3585 1295"/>
<path d="M3704 1112V1084"/><path d="M3707 1211L3705 1147"/>
<path d="M3419 1286L3421 1227"/><path d="M3507.5 1502.5V1453"/>
<path d="M3702 1357L3682 1332"/><path d="M3702 1357L3718 1332"/>
<path d="M3660.5 1428L3697 1392"/><path d="M3702.5 1429V1392"/><path d="M3762.5 1435.5L3708 1392"/>
<path d="M3660.5 1502V1464"/><path d="M3700 1518L3702 1464"/>
<path d="M3660.5 1578V1537"/><path d="M3621.5 1590L3653 1538"/><path d="M3698 1587L3668 1538"/>
<path d="M3648 1682L3659 1613"/><path d="M3678 1667L3662 1613"/>
<path d="M3228 1615L3248 1554"/><path d="M3262 1605L3251 1554"/><path d="M3278 1618L3290 1555"/><path d="M3305 1601L3293 1555"/><path d="M3337.5 1623L3362 1557"/><path d="M3377.5 1634L3366 1557"/>
<path d="M3042 1406L3078 1378"/><path d="M3084 1406V1378"/><path d="M3022.5 1487.5L3041.5 1441"/>
<path d="M3065 1478L3082 1441"/><path d="M3107 1478L3086 1441"/>
<path d="M3024 1546L3062 1513"/><path d="M3065 1546V1513"/><path d="M3106 1546L3107 1513"/><path d="M3148 1546L3110 1513"/>
<path d="M3001.5 1652L3022 1581"/><path d="M3037.5 1634L3026 1581"/><path d="M3065 1653V1581"/><path d="M3105 1652L3106 1581"/><path d="M3159 1652L3110 1581"/>
<path d="M3137 1639L3147 1581"/><path d="M3187.5 1631L3150 1581"/>
<path d="M3060 1751L3064 1688"/><path d="M3084.5 1745L3103 1687"/><path d="M3112.5 1728L3106 1687"/><path d="M3140.5 1756L3157 1687"/><path d="M3166.5 1737.5L3160 1687"/>
<path d="M3283 2408L3281 2341"/><path d="M3366 2408L3364 2341"/><path d="M3449 2408L3447 2341"/><path d="M3532 2408L3530 2341"/><path d="M3615.5 2408L3613.5 2341"/><path d="M3699 2408L3697 2341"/>
<path d="M3281 2305L3283 2273"/><path d="M3364 2305L3366 2273"/><path d="M3447 2305L3449 2273"/><path d="M3530 2305L3532 2273"/><path d="M3613.5 2305L3615.5 2273"/><path d="M3697 2305L3699 2273"/>
<path d="M3283 2238L3282 2202"/><path d="M3366 2238L3365 2202"/><path d="M3449 2238L3448 2202"/><path d="M3532 2238L3531 2202"/><path d="M3615.5 2238L3614.5 2202"/><path d="M3699 2238L3698 2202"/>
<path d="M3281 2167L3283 2134"/><path d="M3364 2167L3366 2134"/><path d="M3447 2167L3449 2134"/><path d="M3530 2167L3532 2134"/><path d="M3613.5 2167L3615.5 2134"/><path d="M3697 2167L3699 2134"/>
<path d="M3283 2099L3282 2065"/><path d="M3366 2099L3365 2065"/><path d="M3449 2099L3448 2065"/><path d="M3532 2099L3531 2065"/><path d="M3615.5 2099L3614.5 2065"/><path d="M3699 2099L3698 2065"/>
<path d="M3281 2030L3283 1997"/><path d="M3364 2030L3366 1997"/><path d="M3447 2030L3449 1997"/><path d="M3530 2030L3532 1997"/><path d="M3613.5 2030L3615.5 1997"/><path d="M3697 2030L3699 1997"/>
<path d="M1497 1584V1532"/><path d="M1455 1584V1532"/><path d="M1913 1584V1532"/>
<path d="M1538.5 1584V1562"/><path d="M1580 1584V1562"/><path d="M1622 1584V1562"/><path d="M1663 1584V1562"/><path d="M1705 1584V1562"/><path d="M1747 1584V1562"/><path d="M1788 1584V1562"/><path d="M1829 1584V1562"/><path d="M1871 1584V1562"/>
<path d="M1538.5 1528V1460"/><path d="M1580 1528V1460"/><path d="M1622 1528V1460"/><path d="M1663 1528V1460"/><path d="M1705 1528V1460"/><path d="M1747 1528V1460"/><path d="M1788 1528V1460"/><path d="M1829 1528V1460"/><path d="M1871 1528V1460"/>
<path d="M1499 1696L1497 1622"/><path d="M1526 1676L1537 1622"/><path d="M1558.5 1702L1540 1622"/><path d="M1586 1682L1581.5 1622"/><path d="M1605.5 1678L1620 1622"/><path d="M1640 1696L1624 1622"/><path d="M1663.5 1680V1622"/><path d="M1708 1677L1705.5 1622"/><path d="M1725 1672L1744 1622"/><path d="M1763 1687L1748 1622"/><path d="M1775 1676L1788 1622"/><path d="M1817 1697L1792 1622"/><path d="M1831 1682L1830 1622"/><path d="M1874 1683L1872 1622"/><path d="M1910 1682L1913 1622"/>
</g>
<g id="l">
<text x="906" y="348">b</text><text x="927" y="348">b</text>
<text x="1300" y="228">res03</text><text x="1384" y="228">res04</text><text x="1467" y="228">res05</text><text x="1550" y="228">res06</text><text x="1633" y="228">res07</text><text x="1716" y="228">res08</text><text x="1799" y="228">res09</text><text x="1883" y="228">res10</text><text x="1966" y="228">res11</text><text x="2048.5" y="228">res12</text>
<text x="863.5" y="571">carry0</text><text x="895.5" y="629">1_00</text><text x="912" y="638">2_01</text>
<text x="948" y="568">/carry1</text><text x="973" y="626">1_01</text><text x="991" y="637">2_02</text>
<text x="1034" y="568">carry2</text><text x="1061" y="626">1_02</text><text x="1082" y="636">2_03</text>
<text x="1134" y="571">carry2/a</text><text x="1122" y="580">c</text><text x="1144" y="580">b</text>
<text x="1062" y="751">1_02</text><text x="1078" y="761">2_03</text>
<text x="1201.5" y="568">/carry4</text><text x="1231" y="629">1_04</text><text x="1249" y="639">2_05</text>
<text x="1286" y="568">/carry5</text><text x="1319.5" y="626">1_05</text><text x="1334" y="639">2_06</text>
<text x="1372" y="570">carry6</text><text x="1397" y="630">1_06</text><text x="1416" y="641">2_07</text>
<text x="1465.5" y="585">carry8/a</text><text x="1453.5" y="610.5">c</text><text x="1479" y="610.5">b</text>
<text x="1660" y="659">b</text><text x="1687.5" y="705">a</text><text x="1702" y="639">1_09/c</text><text x="1702" y="654.5">2_10/d</text>
<text x="1738" y="643">1_10</text><text x="1750" y="656">2_10</text><text x="1790.5" y="588">a02</text><text x="1811" y="569.5">carry0</text>
<text x="833" y="713">/carry5</text><text x="832" y="816">/carry4/a</text><text x="812.5" y="802">b</text><text x="849" y="802">c</text>
<text x="780.5" y="888">1_04</text><text x="799" y="897">2_05</text><text x="854" y="888">1_04</text><text x="872.5" y="897">2_05</text>
<text x="976.5" y="716">carry6</text><text x="973" y="819">/carry5/b</text><text x="956" y="803">a</text><text x="990" y="803">c</text>
<text x="927" y="889">1_05</text><text x="946" y="898">2_06</text><text x="997.5" y="887">1_05</text><text x="1018" y="896">2_06</text>
<text x="828" y="961">/carry1</text><text x="777" y="1143">carry0</text><text x="793" y="1156">2_01</text><text x="818" y="1142">carry0</text><text x="835" y="1155">1_00</text><text x="863.5" y="1142">1_00</text><text x="881" y="1152">2_01</text>
<text x="979.5" y="962">carry2</text><text x="978" y="1062">/carry1/b</text><text x="960.5" y="1052">a</text><text x="996" y="1052">c</text>
<text x="930.5" y="1138">1_01</text><text x="946" y="1151">2_02</text><text x="1004" y="1143">1_01</text><text x="1018.5" y="1156">2_02</text>
<text x="1268" y="755">/carry4</text><text x="1187" y="906">a</text><text x="1257" y="848">b</text><text x="1281" y="848">d</text>
<text x="1284.5" y="932">1_03</text><text x="1302" y="942">2_04</text>
<text x="1195" y="947">b</text><text x="1227" y="947">c</text><text x="1246" y="962">/carry1/d</text><text x="1264" y="947">a</text>
<text x="1097.5" y="1049">1_03</text><text x="1113.5" y="1058">2_04</text><text x="1139" y="1047">1_02</text><text x="1152.5" y="1057">2_03</text>
<text x="1189" y="1042">2_02/a</text><text x="1190" y="1059">1_01/b</text><text x="1222" y="1042">1_02/c</text><text x="1222.5" y="1060">2_03/d</text>
<text x="1265" y="1042">2_02/a</text><text x="1298.5" y="1042">2_03/c</text><text x="1265" y="1057">1_01/b</text><text x="1298.5" y="1057">1_02/d</text>
<text x="1386.5" y="812">1_06</text><text x="1409.5" y="822">2_07</text>
<text x="1594" y="754">d</text><text x="1619" y="766">b</text><text x="1641.5" y="814">a</text>
<text x="1541" y="822">1_08</text><text x="1559" y="834">2_09</text><text x="1680" y="850">1_09</text><text x="1698" y="858">2_10</text>
<text x="1515" y="872">a</text><text x="1579" y="858">b</text><text x="1603" y="859">c</text>
<text x="1514" y="956">/carry5/d</text><text x="1523" y="980">b</text><text x="1563" y="980">a</text><text x="1601" y="981">c</text>
<text x="1590.5" y="940">1_07</text><text x="1612" y="952">2_08</text><text x="1635" y="942">1_08</text><text x="1654" y="952">2_09</text>
<text x="1418" y="963">1_07</text><text x="1436" y="975">2_08</text><text x="1481" y="1097">1_06</text><text x="1496" y="1107">2_07</text>
<text x="1547" y="1089">2_06/a</text><text x="1587" y="1089">2_07/c</text><text x="1545" y="1102">1_05/b</text><text x="1586" y="1102">1_06/d</text>
<text x="1630" y="1092">2_06/a</text><text x="1664" y="1092">2_07/c</text><text x="1629" y="1106">1_05/b</text><text x="1663" y="1106">1_06/d</text>
<text x="639" y="1359">2_01</text><text x="681" y="1359">2_02</text><text x="722" y="1359">2_03</text><text x="764" y="1359">2_04</text><text x="805" y="1359">2_05</text><text x="847" y="1359">2_06</text><text x="889" y="1359">2_07</text><text x="930" y="1359">2_08</text><text x="972" y="1358">2_09</text><text x="1013" y="1358">2_10</text>
<text x="640.5" y="1453">/res03/c</text><text x="682" y="1454">/res04/c</text><text x="722" y="1454">/res05/c</text><text x="764" y="1454">/res06/c</text><text x="805" y="1454">/res07/c</text><text x="847" y="1454">/res08/c</text><text x="890" y="1454">/res09/c</text><text x="931" y="1454">/res10/c</text><text x="973.5" y="1454">/res11/c</text><text x="1013.5" y="1454">/res12/c</text>
<text x="609" y="1473">b</text><text x="651" y="1473">b</text><text x="691.5" y="1473">b</text><text x="733.5" y="1473">b</text><text x="775" y="1473">b</text><text x="817" y="1473">b</text><text x="859" y="1473">b</text><text x="900" y="1473">b</text><text x="941" y="1501">b</text><text x="962.5" y="1501">b</text>
<text x="580.5" y="1652">a01/s0+s1</text><text x="617" y="1643">a01/s0</text><text x="633" y="1653">a02/s1</text><text x="663.5" y="1643">a02/s0</text><text x="707.5" y="1642">a03/s1</text><text x="740" y="1643">a03/s0</text><text x="760.5" y="1653">a04/s1</text><text x="784.5" y="1639">a04/s0</text><text x="803" y="1647">a05/s1</text><text x="830" y="1640">a05/s0</text><text x="873" y="1642">a02/s1</text><text x="915.5" y="1642">a02/a</text>
<text x="1455" y="1558">carry0</text><text x="1497" y="1556">1_00</text><text x="1913" y="1557">1_10</text>
<text x="1538.5" y="1493">1_01</text><text x="1580" y="1493">1_02</text><text x="1622" y="1493">1_03</text><text x="1663" y="1493">1_04</text><text x="1705" y="1493">1_05</text><text x="1747" y="1493">1_06</text><text x="1788" y="1493">1_07</text><text x="1829" y="1493">1_08</text><text x="1871" y="1493">1_09</text>
<text x="1498" y="1657">a00/a</text><text x="1532" y="1647">a00/s0</text><text x="1547.5" y="1659">a01/s1</text><text x="1581.5" y="1649">a01/s0+s1</text><text x="1613.5" y="1647">a01/s0</text><text x="1629.5" y="1656">a02/s1</text><text x="1663.5" y="1648">a02/s0</text><text x="1705.5" y="1648">a03/s1</text><text x="1735.5" y="1644">a03/s0</text><text x="1754" y="1653">a04/s1</text><text x="1781" y="1647">a04/s0</text><text x="1801.5" y="1657">a05/s1</text><text x="1830" y="1649">a05/s0</text><text x="1872" y="1650">a02/s1</text><text x="1911" y="1650">a02/a</text>
<text x="895" y="1906">clk44</text><text x="1020" y="1988">e</text><text x="1308" y="1988">e</text><text x="1439" y="1990">e</text><text x="1536" y="1989">e</text><text x="1570" y="1989">e</text><text x="1706" y="1991">e</text><text x="1834.5" y="1991">e</text><text x="1964" y="1991">e</text>
<text x="958" y="2117">out_00/b</text><text x="1017" y="2113">out_08/b</text><text x="990" y="2129">sel1/a</text>
<text x="1097.5" y="2117">out_01/b</text><text x="1157" y="2113">out_09/b</text><text x="1130" y="2129">sel1/a</text>
<text x="1225" y="2110">out_02/b</text><text x="1278" y="2113.5">out_10/b</text><text x="1251" y="2129">sel1/a</text>
<text x="1346" y="2110">out_03/b</text><text x="1398.5" y="2113.5">out_11/b</text><text x="1372" y="2129">sel1/a</text>
<text x="1482" y="2110">out_03/b</text><text x="1536" y="2113.5">out_11/b</text><text x="1508" y="2129">sel1/a</text>
<text x="1622" y="2112">out_04/b</text><text x="1675.5" y="2116">out_12/b</text><text x="1648" y="2129">sel1/a</text>
<text x="1762.5" y="2110.5">out_05/b</text><text x="1815" y="2115">out_13/b</text><text x="1788" y="2129">sel1/a</text>
<text x="1898" y="2112.5">out_05/b</text><text x="1951.5" y="2116.5">out_13/b</text><text x="1924" y="2129">sel1/a</text>
<text x="2015" y="2112.5">out_06/b</text><text x="2068.5" y="2116.5">out_14/b</text><text x="2041" y="2129">sel1/a</text>
<text x="2132" y="2112">out_07/b</text><text x="2185" y="2116">out_15/b</text><text x="2158" y="2129">sel1/a</text>
<text x="1199.5" y="2188">out_00</text><text x="1244" y="2187">out_01</text><text x="1293" y="2188">out_02</text><text x="1341" y="2187">out_03</text><text x="1391" y="2187">out_04</text><text x="1430" y="2188">out_05</text><text x="1474" y="2187">out_06</text><text x="1515" y="2187">out_07</text><text x="1578" y="2186">out_08</text><text x="1624" y="2187">out_09</text><text x="1667" y="2187">out_10</text><text x="1706" y="2188">out_11</text><text x="1751" y="2188">out_12</text><text x="1796" y="2188">out_13</text><text x="1843" y="2188">out_14</text><text x="1884" y="2188">out_15</text>
<text x="1544" y="2244" style="font-size:24px">UNIT 20</text>
<text x="1303" y="2325">00</text><text x="1347.5" y="2325">01</text><text x="1393.5" y="2325">02</text><text x="1493" y="2325">08</text><text x="1537.5" y="2325">09</text><text x="1581" y="2325">10</text>
<text x="1388" y="2416">idct00</text><text x="1429" y="2416">idct01</text><text x="1470.5" y="2416">idct02</text>
<text x="1768" y="1223">c15</text><text x="1850" y="1223">c14</text><text x="1934" y="1223">c13</text><text x="2016" y="1223">c12</text><text x="2099" y="1222">c11</text><text x="2349" y="1223">c08</text><text x="2432" y="1223">c07</text><text x="2682" y="1223">c04</text><text x="2765" y="1223">c03</text><text x="2848" y="1223">c02</text><text x="2932" y="1224">c01</text><text x="3015" y="1225">c00</text>
<text x="1894" y="1171">/c13</text><text x="2059" y="1171">/c11</text><text x="2142" y="1170">/c10</text><text x="2226" y="1170">/c09</text><text x="2310" y="1172">/c08</text><text x="2564" y="1174">/c05</text><text x="2470" y="1146">unit20_oe1</text><text x="2451" y="1175">/c06</text><text x="2516" y="1201">unit20_oe2</text>
<text x="2808" y="910">clk45</text><text x="2906" y="776">sel1</text><text x="2989" y="781">a03</text><text x="3034" y="724">a04</text><text x="3069" y="771">a00</text><text x="3189" y="728">a01</text><text x="3229.5" y="656.5">a02</text><text x="3104.5" y="826">a05</text>
<text x="2876" y="1022">/c05</text><text x="3018" y="1019.5">/c05</text><text x="3014" y="1083">/c11</text><text x="2982" y="1163">c04</text><text x="2997" y="1154">c03</text>
<text x="3098.5" y="1018.5">/c06</text><text x="3103" y="1082">/c11</text><text x="3068" y="1168">c08</text><text x="3087.5" y="1162">c07</text>
<text x="3145" y="1031.5">/c10</text><text x="3175.5" y="1026">/c13</text><text x="3229" y="1037">/c10</text><text x="3244.5" y="1025">/c09</text><text x="3302" y="1020">/c09</text><text x="3345" y="1020">/c06</text><text x="3315.5" y="1094.5">c03</text><text x="3332" y="1088">c00</text>
<text x="3210" y="1200">clk47</text>
<text x="3159" y="1503.5">/c11</text><text x="3176.5" y="1497">/c08</text><text x="3199" y="1506">/c10</text><text x="3216.5" y="1495.5">/c05</text>
<text x="3284" y="1348">/c05</text><text x="3350" y="1410.5">/c11</text><text x="3370" y="1403">/c10</text>
<text x="3583" y="1006">clk46</text><text x="3564" y="1244">/c06</text><text x="3603" y="1244">/c09</text><text x="3573" y="1326.5">c12</text><text x="3591" y="1316">c03</text><text x="3705" y="1177">c11</text><text x="3418" y="1255">c08</text><text x="3506" y="1476">c13</text>
<text x="3731.5" y="1412.5">/c06</text><text x="3700" y="1489">c14</text><text x="3639" y="1562">/c11</text><text x="3679" y="1561">/c05</text><text x="3653.5" y="1646">c12</text><text x="3668" y="1638">c15</text>
<text x="3238" y="1583">c02</text><text x="3255" y="1578.5">c01</text><text x="3285" y="1586">c07</text><text x="3297" y="1577.5">c04</text><text x="3350" y="1589">c14</text><text x="3370.5" y="1594">c13</text>
<text x="3032" y="1463">c11</text><text x="3012" y="1614">/c06</text><text x="3030" y="1606">/c05</text><text x="3142" y="1609">/c10</text><text x="3167" y="1604.5">/c09</text>
<text x="3062" y="1718.5">c08</text><text x="3094" y="1715">c03</text><text x="3108" y="1706">c02</text><text x="3148" y="1721">c01</text><text x="3161" y="1711">c00</text>
<text x="3283" y="2373">idct00</text><text x="3365" y="2373">idct00</text><text x="3447" y="2373">idct01</text><text x="3530" y="2373">idct01</text><text x="3614" y="2373">idct02</text><text x="3697" y="2373">idct02</text>
<text x="3321" y="1656" style="font-size:23px;fill:#333">-878-</text>
<text x="3295" y="1677.5" style="text-anchor:start;font-size:12px">clk47</text>
<text x="3295" y="1693" style="text-anchor:start;font-size:12px">/res8</text>
<text x="3295" y="1708" style="text-anchor:start;font-size:12px">cnt3</text>
<text x="3295" y="1723" style="text-anchor:start;font-size:12px">c,d</text>
<text x="3295" y="1738" style="text-anchor:start;font-size:12px">u6</text>
</g>
</svg>
</body></html>
